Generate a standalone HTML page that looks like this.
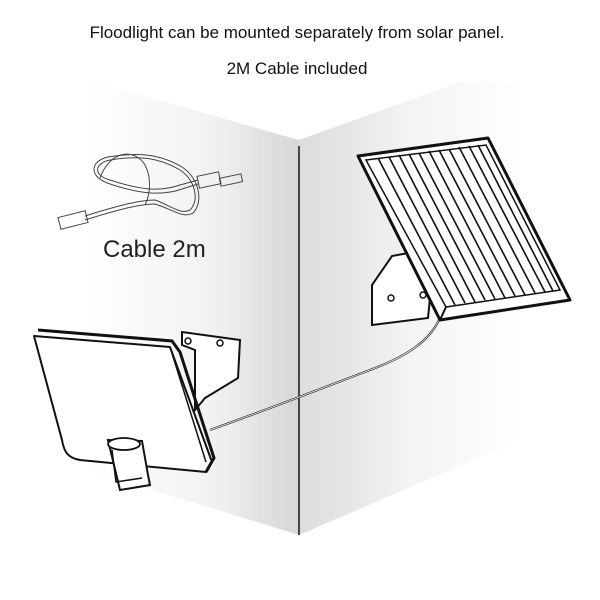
<!DOCTYPE html>
<html><head><style>
html,body{margin:0;padding:0;background:#fff;}
svg{display:block;}
</style></head><body>
<svg width="600" height="600" viewBox="0 0 600 600" xmlns="http://www.w3.org/2000/svg">
<defs>
<linearGradient id="lw" x1="0" x2="1" y1="0" y2="0">
<stop offset="0" stop-color="#fff"/><stop offset="0.6" stop-color="#f1f1f1"/><stop offset="1" stop-color="#d6d6d6"/>
</linearGradient>
<linearGradient id="rw" x1="0" x2="1" y1="0" y2="0">
<stop offset="0" stop-color="#dcdcdc"/><stop offset="0.5" stop-color="#f3f3f3"/><stop offset="1" stop-color="#fff"/>
</linearGradient>
</defs>
<text x="297" y="38" font-family="Liberation Sans, sans-serif" font-size="17" text-anchor="middle" fill="#111">Floodlight can be mounted separately from solar panel.</text>
<text x="297" y="74" font-family="Liberation Sans, sans-serif" font-size="17" text-anchor="middle" fill="#111">2M Cable included</text>
<!-- walls -->
<polygon points="88,80 299,140 299,535 88,470" fill="url(#lw)"/>
<polygon points="299,140 460,82 520,82 520,440 299,535" fill="url(#rw)"/>
<line x1="299" y1="146" x2="299" y2="535" stroke="#222" stroke-width="1.6"/>
<!-- cable coil -->
<g fill="none" stroke="#444" stroke-width="1">
<rect x="59" y="214" width="28" height="12" transform="rotate(-14 73 220)"/>
<path d="M85,216 C120,205 140,200 155,200 C170,205 180,215 190,210 C200,200 195,180 180,170 C160,158 140,155 110,160 C95,163 92,175 110,180 C140,190 160,192 180,185 L198,180"/>
<path d="M85,220 C120,209 140,204 155,204 C172,209 183,219 193,213 C204,202 199,178 182,167 C160,154 138,152 108,157 C90,161 88,177 110,184 C140,194 162,196 182,189 L198,184"/>
<path d="M100,178 C110,150 135,148 145,165 C152,178 150,195 145,205"/>
<rect x="198" y="174" width="22" height="12" transform="rotate(-12 209 180)"/>
<rect x="220" y="176" width="22" height="8" transform="rotate(-12 231 180)"/>
</g>
<text x="103" y="257" font-family="Liberation Sans, sans-serif" font-size="24" fill="#222">Cable 2m</text>
<!-- cable main -->
<path d="M210,430 C280,405 330,385 370,370 C410,355 430,340 440,318" fill="none" stroke="#333" stroke-width="2.2"/>
<path d="M210,430 C280,405 330,385 370,370 C410,355 430,340 440,318" fill="none" stroke="#eee" stroke-width="0.8"/>
<!-- solar bracket -->
<path d="M372,325 L372,285 L392,256 L414,252 L430,298 L428,318 Z" fill="#fff" stroke="#111" stroke-width="2"/>
<circle cx="391" cy="298" r="3" fill="#fff" stroke="#111" stroke-width="1.5"/>
<circle cx="423" cy="295" r="3" fill="#fff" stroke="#111" stroke-width="1.5"/>
<!-- solar panel -->
<polygon points="358,156 488,138 570,300 440,320" fill="#fff" stroke="#111" stroke-width="3" stroke-linejoin="round"/>
<polygon points="366,160 486,145 560,290 446,307" fill="#fff" stroke="#111" stroke-width="1.5"/>
<g stroke="#111" stroke-width="1.6">
<line x1="378" y1="158" x2="455" y2="305"/>
<line x1="389" y1="157" x2="465" y2="303"/>
<line x1="399" y1="155" x2="475" y2="302"/>
<line x1="409" y1="154" x2="485" y2="300"/>
<line x1="419" y1="153" x2="495" y2="299"/>
<line x1="429" y1="151" x2="505" y2="298"/>
<line x1="439" y1="150" x2="515" y2="296"/>
<line x1="449" y1="149" x2="525" y2="295"/>
<line x1="459" y1="147" x2="535" y2="293"/>
<line x1="469" y1="146" x2="545" y2="292"/>
<line x1="478" y1="145" x2="553" y2="291"/>
</g>
<line x1="446" y1="307" x2="440" y2="320" stroke="#111" stroke-width="2"/>
<!-- floodlight bracket -->
<path d="M182,332 L182,345 L195,350 L195,410 L205,398 L238,378 L240,340 Z" fill="#fff" stroke="#111" stroke-width="2"/>
<circle cx="188" cy="341" r="3" fill="#fff" stroke="#111" stroke-width="1.5"/>
<circle cx="220" cy="343" r="3" fill="#fff" stroke="#111" stroke-width="1.5"/>
<!-- floodlight -->
<path d="M34,336 L170,347 L212,462 L206,472 L80,460 C68,458 64,452 62,440 Z" fill="#fff" stroke="#111" stroke-width="2" stroke-linejoin="round"/>
<path d="M38,330 L172,341 L180,352 L214,458 L206,472" fill="none" stroke="#111" stroke-width="3"/>
<path d="M170,347 L206,462" fill="none" stroke="#111" stroke-width="1.5"/>
<!-- sensor -->
<path d="M108,440 L142,441 L148,475 L150,485 L120,490 Z" fill="#fff" stroke="#111" stroke-width="2"/>
<ellipse cx="124" cy="444" rx="16" ry="6" fill="#fff" stroke="#111" stroke-width="1.8"/>
<path d="M112,450 L116,482 L142,478" fill="none" stroke="#111" stroke-width="1.5"/>
</svg>
</body></html>
